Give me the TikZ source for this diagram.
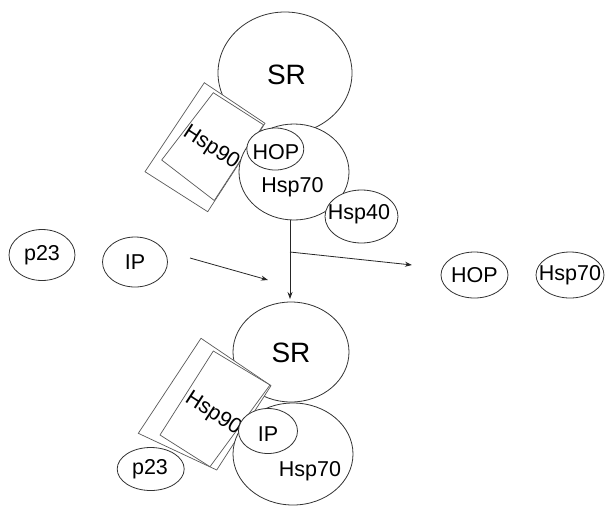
\documentclass[tikz,border=0pt]{standalone}
\usepackage{fontspec}
\setmainfont{Liberation Sans}
\usetikzlibrary{shapes.geometric,arrows.meta}
\begin{document}
\begin{tikzpicture}[x=1pt,y=-1pt,
  mol/.style={ellipse,draw=black!80,line width=0.8pt,fill=white,inner sep=0pt},
  txt/.style={inner sep=0pt,font=\fontsize{21.5}{24}\selectfont},
  big/.style={inner sep=0pt,font=\fontsize{28}{32}\selectfont},
  bar/.style={draw=black!65,line width=0.7pt,fill=white,line join=miter},
  flow/.style={draw=black!85,line width=0.8pt,-{Stealth[length=7pt,width=5pt]}}
]
\useasboundingbox (0,0) rectangle (605,507);

% ---- upper complex: SR / Hsp90 / HOP / Hsp70 / Hsp40
\node[mol,minimum width=134pt,minimum height=122pt] (srA) at (285,73) {};
\node[big] (srAlab) at (286.5,75) {SR};
% Hsp90 as two overlapping tilted plates
\draw[bar] (204.3,82.7) -- (265,123.3) -- (207.7,211.7) -- (145,171.7) -- cycle;
\draw[bar] (213.3,92.7) -- (263.5,124.8) -- (214.3,200.5) -- (161.7,160) -- cycle;
\node[txt,rotate=-33] (h90Alab) at (211,148) {Hsp90};
\node[mol,minimum width=110pt,minimum height=96pt] (h70A) at (294,172) {};
\node[mol,minimum width=57pt,minimum height=42pt] (hopA) at (275.3,149) {};
\node[txt] (hopAlab) at (276,152.5) {HOP};
\node[txt] (h70Alab) at (292.5,187.5) {Hsp70};
\node[mol,minimum width=73pt,minimum height=53pt] (h40A) at (361.5,216.5) {};
\node[txt] (h40Alab) at (359,214) {Hsp40};

% ---- free components
\node[mol,minimum width=66pt,minimum height=51pt] (p23free) at (42,255) {};
\node[txt] (p23freelab) at (42,255) {p23};
\node[mol,minimum width=65pt,minimum height=50pt] (ipfree) at (135,262) {};
\node[txt] (ipfreelab) at (135,262) {IP};
\node[mol,minimum width=67pt,minimum height=46pt] (hopfree) at (474.5,275) {};
\node[txt] (hopfreelab) at (474.5,275) {HOP};
\node[mol,minimum width=68pt,minimum height=46pt] (h70free) at (570,275) {};
\node[txt] (h70freelab) at (570,275) {Hsp70};

% ---- lower complex: SR / Hsp90 / IP / Hsp70 / p23
\node[mol,minimum width=116pt,minimum height=100pt] (srB) at (291,352) {};
\node[big] (srBlab) at (291,353) {SR};
\draw[bar] (201,338.3) -- (271,385.7) -- (216.7,470) -- (138.3,433.3) -- cycle;
\draw[bar] (213.3,351) -- (270,385) -- (210,466.7) -- (160,435) -- cycle;
\node[txt,rotate=-33] (h90Blab) at (213,414) {Hsp90};
\node[mol,minimum width=120pt,minimum height=102pt] (h70B) at (293,454) {};
\node[mol,minimum width=59pt,minimum height=45pt] (ipB) at (268,431) {};
\node[txt] (ipBlab) at (268,434.5) {IP};
\node[txt] (h70Blab) at (310,471) {Hsp70};
\node[mol,minimum width=67pt,minimum height=43pt] (p23B) at (150.7,469) {};
\node[txt] (p23Blab) at (150,469) {p23};

% ---- reaction arrows
\coordinate (split) at (290,252);
\coordinate (downend) at (290,299);
\coordinate (releaseend) at (412,265);
\coordinate (ipstart) at (190,258);
\coordinate (ipend) at (268,280);
\draw[flow] (h70A.south -| split) -- (downend);
\draw[flow] (split) -- (releaseend);
\draw[flow] (ipstart) -- (ipend);
\end{tikzpicture}
\end{document}
